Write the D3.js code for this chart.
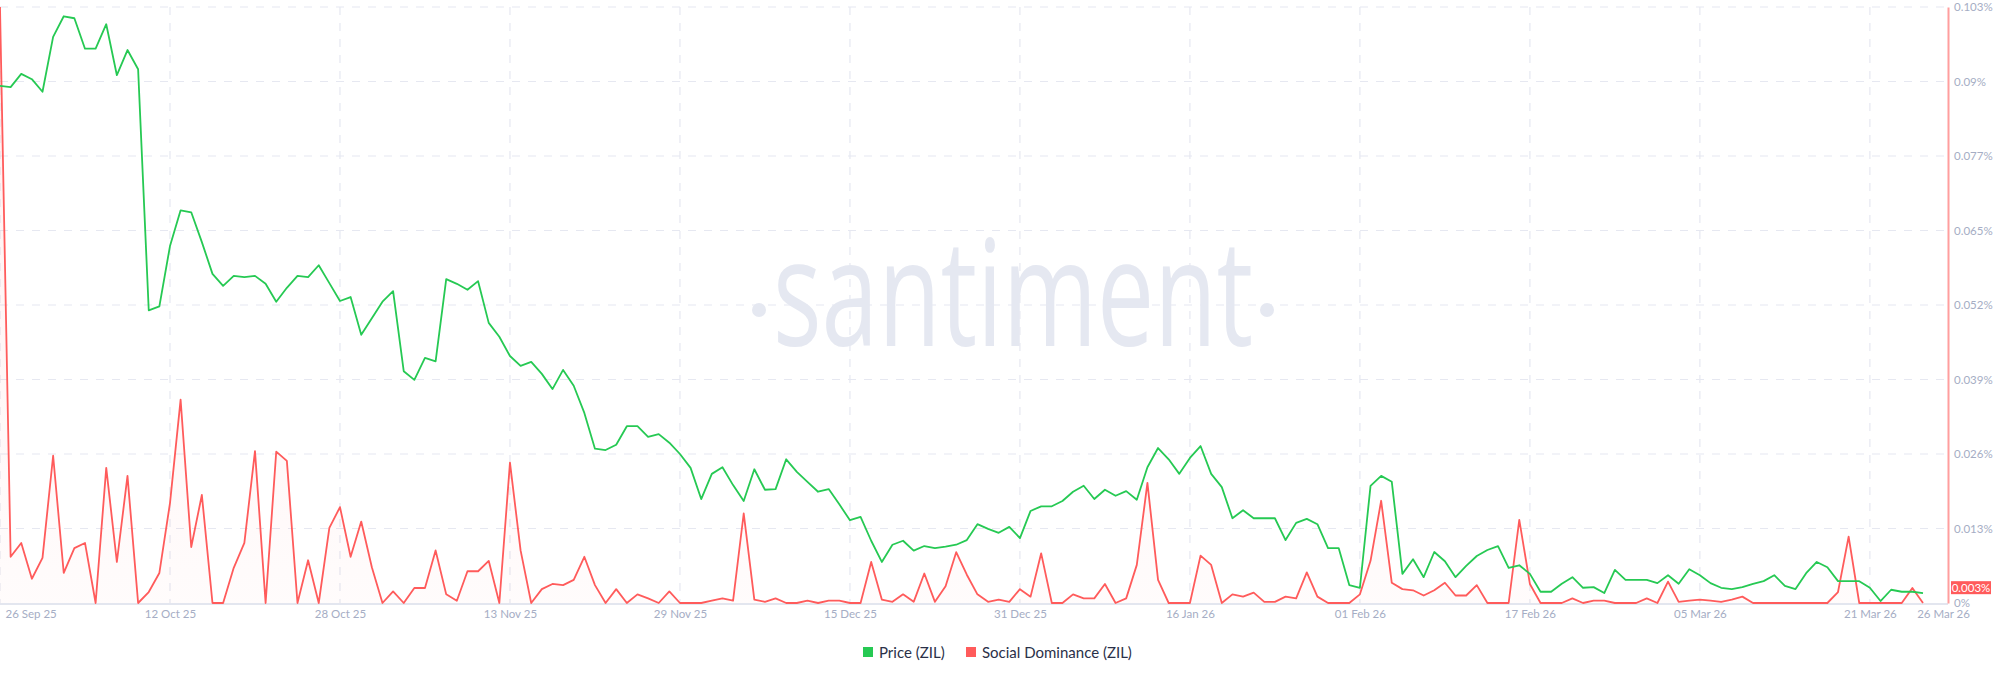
<!DOCTYPE html>
<html lang="en">
<head>
<meta charset="UTF-8">
<title>ZIL - Price vs Social Dominance</title>
<script src="https://d3js.org/d3.v7.min.js"></script>
<style>
  body { margin: 0; background: #fff; }
  svg { display: block; }
</style>
</head>
<body>
<div id="chart"></div>
<script>
// daily series, first value is 26 Sep 25
const startDay = "2025-09-26";

// price of ZIL in USD (left scale is hidden in the original)
const priceZil = [
  0.01081, 0.01079, 0.01099, 0.01091, 0.01072, 0.01155, 0.01186, 0.01183, 0.01137, 0.01137,
  0.01174, 0.01097, 0.01135, 0.01106, 0.00742, 0.00748, 0.00839, 0.00893, 0.00890, 0.00845,
  0.00797, 0.00779, 0.00794, 0.00792, 0.00794, 0.00782, 0.00755, 0.00776, 0.00794, 0.00792,
  0.00810, 0.00783, 0.00756, 0.00762, 0.00705, 0.00730, 0.00755, 0.00771, 0.00650, 0.00637,
  0.00670, 0.00665, 0.00789, 0.00782, 0.00773, 0.00786, 0.00723, 0.00702, 0.00673, 0.00658,
  0.00664, 0.00646, 0.00623, 0.00652, 0.00628, 0.00587, 0.00533, 0.00531, 0.00539, 0.00567,
  0.00567, 0.00551, 0.00555, 0.00542, 0.00525, 0.00504, 0.00457, 0.00495, 0.00505, 0.00478,
  0.00454, 0.00502, 0.00471, 0.00472, 0.00517, 0.00498, 0.00483, 0.00468, 0.00472, 0.00449,
  0.00425, 0.00430, 0.00394, 0.00362, 0.00388, 0.00394, 0.00379, 0.00386, 0.00383, 0.00385,
  0.00388, 0.00395, 0.00419, 0.00412, 0.00406, 0.00415, 0.00398, 0.00439, 0.00446, 0.00446,
  0.00454, 0.00468, 0.00477, 0.00457, 0.00471, 0.00462, 0.00469, 0.00456, 0.00505, 0.00534,
  0.00517, 0.00495, 0.00519, 0.00537, 0.00495, 0.00475, 0.00428, 0.00440, 0.00428, 0.00428,
  0.00428, 0.00395, 0.00421, 0.00427, 0.00419, 0.00383, 0.00383, 0.00327, 0.00323, 0.00477,
  0.00492, 0.00483, 0.00344, 0.00366, 0.00339, 0.00377, 0.00363, 0.00339, 0.00356, 0.00371,
  0.00380, 0.00386, 0.00353, 0.00357, 0.00344, 0.00317, 0.00317, 0.00329, 0.00339, 0.00323,
  0.00324, 0.00315, 0.00350, 0.00335, 0.00335, 0.00335, 0.00330, 0.00342, 0.00329, 0.00351,
  0.00342, 0.00330, 0.00323, 0.00321, 0.00324, 0.00329, 0.00333, 0.00342, 0.00326, 0.00321,
  0.00345, 0.00362, 0.00354, 0.00333, 0.00333, 0.00333, 0.00323, 0.00303, 0.00320, 0.00317,
  0.00317, 0.00315
];

// social dominance of ZIL in %
const socialDominance = [
  0.1032, 0.0080, 0.0104, 0.0042, 0.0078, 0.0255, 0.0052, 0.0095, 0.0104, 0,
  0.0234, 0.0071, 0.0220, 0, 0.0019, 0.0052, 0.0173, 0.0352, 0.0097, 0.0187,
  0, 0, 0.0061, 0.0104, 0.0263, 0, 0.0262, 0.0246, 0, 0.0074,
  0, 0.0130, 0.0166, 0.0080, 0.0141, 0.0062, 0, 0.0020, 0, 0.0026,
  0.0026, 0.0091, 0.0015, 0.0004, 0.0055, 0.0055, 0.0073, 0, 0.0243, 0.0091,
  0, 0.0024, 0.0033, 0.0031, 0.0040, 0.0080, 0.0031, 0, 0.0024, 0,
  0.0015, 0.0008, 0, 0.0020, 0, 0, 0, 0.0004, 0.0008, 0.0004,
  0.0155, 0.0006, 0.0002, 0.0008, 0, 0, 0.0004, 0, 0.0004, 0.0004,
  0, 0, 0.0071, 0.0006, 0.0002, 0.0015, 0.0002, 0.0051, 0.0002, 0.0029,
  0.0088, 0.0049, 0.0015, 0.0002, 0.0006, 0.0002, 0.0024, 0.0011, 0.0086, 0,
  0, 0.0015, 0.0008, 0.0008, 0.0033, 0, 0.0008, 0.0066, 0.0208, 0.0040,
  0, 0, 0, 0.0082, 0.0066, 0, 0.0015, 0.0011, 0.0018, 0.0002,
  0.0002, 0.0011, 0.0008, 0.0053, 0.0011, 0, 0, 0, 0.0015, 0.0073,
  0.0177, 0.0035, 0.0024, 0.0022, 0.0013, 0.0022, 0.0035, 0.0013, 0.0013, 0.0031,
  0, 0, 0, 0.0144, 0.0033, 0, 0, 0, 0.0008, 0,
  0.0004, 0.0004, 0, 0, 0, 0.0008, 0, 0.0037, 0.0002, 0.0004,
  0.0006, 0.0004, 0.0002, 0.0006, 0.0011, 0, 0, 0, 0, 0,
  0, 0, 0, 0.0019, 0.0115, 0, 0, 0, 0, 0,
  0.0026, 0
];

const dateTicks = ["2025-09-26", "2025-10-12", "2025-10-28", "2025-11-13", "2025-11-29",
  "2025-12-15", "2025-12-31", "2026-01-16", "2026-02-01", "2026-02-17", "2026-03-05",
  "2026-03-21", "2026-03-26"];

const domMax = 0.1032;
const domTickLabels = ["0%", "0.013%", "0.026%", "0.039%", "0.052%", "0.065%", "0.077%", "0.09%", "0.103%"];
const lastTag = { value: 0.003, label: "0.003%" };

const seriesNames = ["Price (ZIL)", "Social Dominance (ZIL)"];
const seriesColors = ["#26c953", "#ff5b5b"];

// ---- layout
const W = 2000, H = 677;
const plotTop = 7, plotBottom = 603, plotRight = 1948, lastX = 1923;
const labelFont = "Lato, 'Open Sans', sans-serif";

const parse = d3.timeParse("%Y-%m-%d");
const days = priceZil.map((_, i) => d3.timeDay.offset(parse(startDay), i));

const x = d3.scaleTime().domain([days[0], days[days.length - 1]]).range([0, lastX]);
const yDom = d3.scaleLinear().domain([0, domMax]).range([plotBottom, plotTop]);
const yPrice = d3.scaleLinear().domain([0.003, 0.012]).range([plotBottom, plotTop]);

const svg = d3.select("#chart").append("svg")
    .attr("width", W)
    .attr("height", H);

// watermark
const wm = svg.append("g").attr("fill", "#e5e8f1");
wm.append("text")
    .attr("x", 773).attr("y", 346)
    .attr("textLength", 480)
    .attr("lengthAdjust", "spacingAndGlyphs")
    .style("font-family", "'Open Sans', sans-serif")
    .style("font-size", "148px")
    .text("santiment");
wm.append("circle").attr("cx", 759).attr("cy", 310).attr("r", 7);
wm.append("circle").attr("cx", 1267).attr("cy", 310).attr("r", 7);

// grid
const domTicks = d3.range(domTickLabels.length).map(i => i * domMax / (domTickLabels.length - 1));
svg.append("g").selectAll("line")
    .data(domTicks.slice(1))
    .join("line")
    .attr("x1", 0).attr("x2", plotRight - 2)
    .attr("y1", d => yDom(d)).attr("y2", d => yDom(d))
    .attr("stroke", "#e6e8f1")
    .attr("stroke-width", 1.2)
    .attr("stroke-dasharray", "8,8");

const tickDates = dateTicks.map(parse);
svg.append("g").selectAll("line")
    .data(tickDates.slice(0, -1))
    .join("line")
    .attr("x1", d => x(d)).attr("x2", d => x(d))
    .attr("y1", plotTop).attr("y2", plotBottom)
    .attr("stroke", "#e6e8f1")
    .attr("stroke-width", 1.2)
    .attr("stroke-dasharray", "8,8");

// baseline
svg.append("line")
    .attr("x1", 0).attr("x2", plotRight)
    .attr("y1", plotBottom + 1).attr("y2", plotBottom + 1)
    .attr("stroke", "#e3e6ef")
    .attr("stroke-width", 2);

// social dominance area + line
const grad = svg.append("defs").append("linearGradient")
    .attr("id", "domFill")
    .attr("gradientUnits", "userSpaceOnUse")
    .attr("x1", 0).attr("y1", plotTop).attr("x2", 0).attr("y2", plotBottom);
grad.append("stop").attr("offset", 0).attr("stop-color", "#ff5b5b").attr("stop-opacity", 0.10);
grad.append("stop").attr("offset", 1).attr("stop-color", "#ff5b5b").attr("stop-opacity", 0.02);

svg.append("path")
    .datum(socialDominance)
    .attr("fill", "url(#domFill)")
    .attr("d", d3.area()
        .x((d, i) => x(days[i]))
        .y0(plotBottom)
        .y1(d => yDom(d)));

svg.append("path")
    .datum(socialDominance)
    .attr("fill", "none")
    .attr("stroke", seriesColors[1])
    .attr("stroke-width", 1.8)
    .attr("stroke-linejoin", "round")
    .attr("d", d3.line()
        .x((d, i) => x(days[i]))
        .y(d => yDom(d)));

// price line
svg.append("path")
    .datum(priceZil)
    .attr("fill", "none")
    .attr("stroke", seriesColors[0])
    .attr("stroke-width", 1.8)
    .attr("stroke-linejoin", "round")
    .attr("d", d3.line()
        .x((d, i) => x(days[i]))
        .y(d => yPrice(d)));

// right axis (social dominance)
const rightAxis = svg.append("g")
    .attr("transform", `translate(${plotRight},0)`)
    .call(d3.axisRight(yDom)
        .tickValues(domTicks)
        .tickFormat((d, i) => domTickLabels[i])
        .tickSize(0)
        .tickSizeOuter(0)
        .tickPadding(6));
rightAxis.select(".domain").attr("stroke", "#ff9e9e").attr("stroke-width", 2);
rightAxis.selectAll("text")
    .attr("fill", "#a5adc4")
    .style("font-family", labelFont)
    .style("font-size", "11.5px");

// last value tag
const tagY = yDom(lastTag.value) + 2;
svg.append("rect")
    .attr("x", plotRight + 3).attr("y", tagY - 6.5)
    .attr("width", 40).attr("height", 13)
    .attr("fill", seriesColors[1]);
svg.append("text")
    .attr("x", plotRight + 23).attr("y", tagY)
    .attr("text-anchor", "middle")
    .attr("dominant-baseline", "central")
    .attr("fill", "#fff")
    .style("font-family", labelFont)
    .style("font-size", "11.5px")
    .text(lastTag.label);

// bottom axis (dates)
const bottomAxis = svg.append("g")
    .attr("transform", `translate(0,${plotBottom + 1})`)
    .call(d3.axisBottom(x)
        .tickValues(tickDates)
        .tickFormat(d3.timeFormat("%d %b %y"))
        .tickSize(0)
        .tickPadding(6));
bottomAxis.select(".domain").remove();
bottomAxis.selectAll("text")
    .attr("fill", "#a5adc4")
    .style("font-family", labelFont)
    .style("font-size", "11.5px");
const tickNodes = bottomAxis.selectAll(".tick").nodes();
d3.select(tickNodes[0]).select("text").attr("text-anchor", "start").attr("x", 5);
d3.select(tickNodes[tickNodes.length - 1]).select("text").attr("x", 20);

// legend
const legend = svg.append("g").attr("transform", "translate(863,652)");
const legendX = [0, 103];
seriesNames.forEach((name, i) => {
    const g = legend.append("g").attr("transform", `translate(${legendX[i]},0)`);
    g.append("rect")
        .attr("x", 0).attr("y", -5)
        .attr("width", 10).attr("height", 10)
        .attr("fill", seriesColors[i]);
    g.append("text")
        .attr("x", 16).attr("y", 0)
        .attr("dominant-baseline", "central")
        .attr("fill", "#2a3048")
        .style("font-family", labelFont)
        .style("font-size", "15px")
        .text(name);
});
</script>
</body>
</html>
